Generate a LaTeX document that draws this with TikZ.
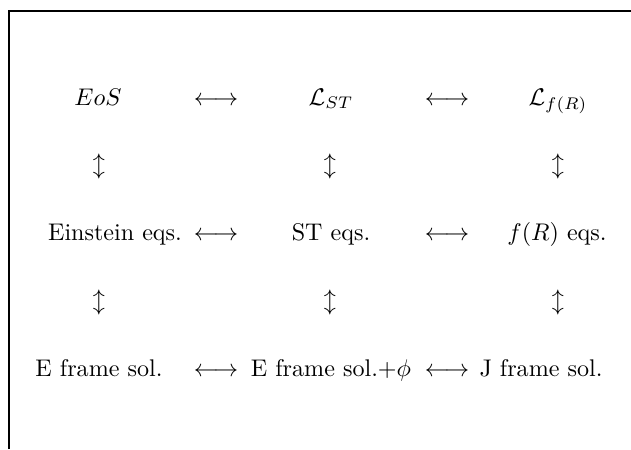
\documentclass[tikz,border=0pt]{standalone}
\begin{document}
\begin{tikzpicture}[x=0.415pt,y=-0.415pt,
  lbl/.style={anchor=base,inner sep=0pt,outer sep=0pt},
  frameline/.style={line width=0.8pt,line join=miter}]
\useasboundingbox (0,0) rectangle (631,449);
\draw[frameline] (9,449) -- (9,11) -- (631,11);
% row 1
\node[lbl] (eos) at (98,105) {$EoS$};
\node[lbl] (h11) at (216,105) {$\longleftrightarrow$};
\node[lbl] (lst) at (331,105) {$\mathcal{L}_{ST}$};
\node[lbl] (h12) at (447,105) {$\longleftrightarrow$};
\node[lbl] (lfr) at (558,105) {$\mathcal{L}_{f(R)}$};
% row 2
\node[lbl] (v11) at (99,172) {$\updownarrow$};
\node[lbl] (v12) at (330,172) {$\updownarrow$};
\node[lbl] (v13) at (558,172) {$\updownarrow$};
% row 3
\node[lbl] (ein) at (115,240) {Einstein eqs.};
\node[lbl] (h21) at (216,240) {$\longleftrightarrow$};
\node[lbl] (steq) at (331,240) {ST eqs.};
\node[lbl] (h22) at (447,240) {$\longleftrightarrow$};
\node[lbl] (freq) at (557,240) {$f(R)$ eqs.};
% row 4
\node[lbl] (v21) at (99,308) {$\updownarrow$};
\node[lbl] (v22) at (330,308) {$\updownarrow$};
\node[lbl] (v23) at (558,308) {$\updownarrow$};
% row 5
\node[lbl] (esol) at (99,376) {E frame sol.};
\node[lbl] (h31) at (216,376) {$\longleftrightarrow$};
\node[lbl] (esolphi) at (331,376) {E frame sol.$+\phi$};
\node[lbl] (h32) at (447,376) {$\longleftrightarrow$};
\node[lbl] (jsol) at (541,376) {J frame sol.};
\end{tikzpicture}
\end{document}
